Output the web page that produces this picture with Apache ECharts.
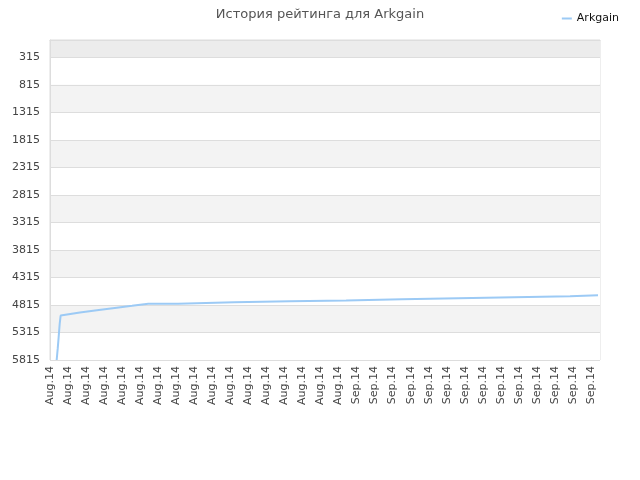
<!DOCTYPE html>
<html>
<head>
<meta charset="utf-8">
<script src="https://cdn.jsdelivr.net/npm/echarts@6/dist/echarts.min.js"></script>
<style>
  html, body { margin: 0; padding: 0; background: #fff; }
  #container { width: 640px; height: 480px; }
</style>
</head>
<body>
<div id="container"></div>
<script>
// x labels (month.year), one per tick
var xLabels = ['Aug.14', 'Aug.14', 'Aug.14', 'Aug.14', 'Aug.14', 'Aug.14', 'Aug.14', 'Aug.14',
               'Aug.14', 'Aug.14', 'Aug.14', 'Aug.14', 'Aug.14', 'Aug.14', 'Aug.14', 'Aug.14', 'Aug.14',
               'Sep.14', 'Sep.14', 'Sep.14', 'Sep.14', 'Sep.14', 'Sep.14', 'Sep.14', 'Sep.14',
               'Sep.14', 'Sep.14', 'Sep.14', 'Sep.14', 'Sep.14', 'Sep.14'];
// y tick values (rating place)
var yTicks = [315, 815, 1315, 1815, 2315, 2815, 3315, 3815, 4315, 4815, 5315, 5815];

// time (in tick steps) and rating of Arkgain
var times = [0.37, 0.43, 0.48, 0.54, 0.59, 1.66, 2.60, 3.70, 4.55, 5.45,
             7.10, 7.10, 10.21, 10.21, 13.31, 13.31, 16.42, 16.42, 19.52, 19.52,
             22.63, 22.63, 25.74, 25.74, 28.84, 28.84, 30.39];
var ratings = [5815, 5600, 5400, 5150, 5007, 4952, 4910, 4865, 4830, 4791,
               4791, 4767, 4767, 4748, 4748, 4735, 4735, 4711, 4711, 4693,
               4693, 4674, 4674, 4656, 4656, 4637, 4637];

(function () {
    var dom = document.getElementById("container");
    var myChart = echarts.init(dom);
    var points = times.map(function (t, i) { return [t, ratings[i]]; });
    var font = 'DejaVu Sans';

    var option = {
        animation: false,
        title: {
            text: 'История рейтинга для Arkgain',
            left: 'center',
            top: 3,
            textStyle: { fontFamily: font, fontSize: 13, fontWeight: 'normal', color: '#555' }
        },
        legend: {
            right: 16,
            top: 8,
            itemWidth: 10,
            itemHeight: 2,
            itemGap: 5,
            textStyle: { fontFamily: font, fontSize: 11, color: '#111' },
            data: [{ name: 'Arkgain', icon: 'rect' }]
        },
        grid: {
            left: 50,
            right: 40,
            top: 40,
            bottom: 120,
            show: true,
            borderColor: '#ddd',
            borderWidth: 1
        },
        xAxis: {
            type: 'value',
            min: 0,
            max: 30.5,
            interval: 1,
            axisLine: { lineStyle: { color: '#ddd' } },
            axisTick: { show: false },
            splitLine: { show: false },
            axisLabel: {
                rotate: 90,
                margin: 6,
                fontFamily: font,
                fontSize: 11,
                color: '#444',
                showMaxLabel: false,
                formatter: function (v) {
                    return (Math.round(v) === v && xLabels[v]) ? xLabels[v] : '';
                }
            }
        },
        yAxis: {
            type: 'value',
            inverse: true,
            min: 0,
            max: 5815,
            axisLine: { show: true, lineStyle: { color: '#ddd' } },
            axisTick: { show: false, customValues: [0].concat(yTicks) },
            axisLabel: {
                customValues: yTicks,
                margin: 10,
                fontFamily: font,
                fontSize: 11,
                color: '#444',
                formatter: function (v) { return String(v); }
            },
            splitLine: { show: true, lineStyle: { color: '#ddd' } },
            splitArea: {
                show: true,
                areaStyle: {
                    color: ['#ececec', '#fff', '#f3f3f3', '#fff', '#f3f3f3', '#fff',
                            '#f3f3f3', '#fff', '#f3f3f3', '#fff', '#f3f3f3', '#fff']
                }
            }
        },
        series: [{
            name: 'Arkgain',
            type: 'line',
            data: points,
            showSymbol: false,
            color: '#9ccaf5',
            lineStyle: { width: 2, color: '#9ccaf5' }
        }]
    };
    myChart.setOption(option, true);
})();
</script>
</body>
</html>
